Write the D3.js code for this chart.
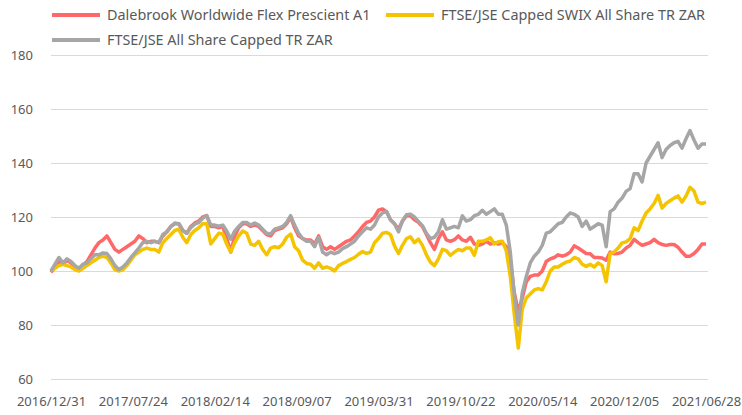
<!DOCTYPE html>
<html>
<head>
<meta charset="utf-8">
<script src="https://cdn.jsdelivr.net/npm/d3@7"></script>
<style>
  body { margin: 0; background: #fff; }
  svg { display: block; }
  text { font-family: "Noto Sans", sans-serif; fill: #595959; }
</style>
</head>
<body>
<div class="chart"></div>
<script>
// series names, one value every 10 days from 2016/12/31 to 2021/06/28
const names = ['Dalebrook Worldwide Flex Prescient A1', 'FTSE/JSE Capped SWIX All Share TR ZAR', 'FTSE/JSE All Share Capped TR ZAR']
const colors = ['#ff6868', '#f4c400', '#a6a6a6']

const dalebrook = [
  99.5, 101.5, 104, 102.5, 104, 103, 101.5, 100.5, 102, 103.5,
  106, 108.5, 110.5, 111.5, 113, 110.5, 108, 107, 108, 109,
  110, 111, 113, 112, 110.5, 111, 111, 110.5, 113, 114.5,
  116.5, 117.5, 117.5, 115, 114, 116.5, 117.8, 118.5, 120, 120.5,
  116.5, 116.5, 116, 116.5, 112, 107, 113, 116, 117.5, 117.5,
  116.5, 117, 116.5, 115, 113.5, 113, 115, 115.5, 116, 117.5,
  120, 116, 113, 112, 111.5, 111.5, 110, 113, 109, 108,
  109, 108, 109, 110, 111, 111.5, 113, 114.5, 116.5, 118,
  118.5, 120, 122.5, 123, 122, 119, 117.5, 115.5, 118.5, 120.5,
  120.5, 119, 118, 116.5, 113.5, 110.5, 108, 112, 114.5, 111.5,
  111, 111.6, 113, 111.5, 111, 112.5, 110, 109.5, 110, 111,
  110, 110.5, 110, 110.5, 109, 104, 92, 85, 90, 96,
  98, 98.5, 98.5, 100, 103.5, 104.5, 105, 106, 105.5, 106,
  107, 109.3, 108.5, 107.5, 106.5, 106.4, 105, 105, 104.8, 104,
  107, 106.4, 106.5, 107, 108.5, 109.5, 111.7, 110.5, 109.5, 110,
  110.5, 111.7, 110.5, 109.8, 109.5, 109.8, 109.8, 108.8, 107, 105.5,
  105.5, 106.5, 108, 110, 110
]

const swix = [
  100, 101, 102, 102.5, 102, 101.5, 100.5, 100, 101, 102,
  103, 104, 105, 105.5, 105, 103, 100.5, 100, 100.5, 102,
  104, 106, 107, 108, 108.5, 108, 108, 107, 110.5, 112,
  113.5, 115, 115.5, 112.5, 110.5, 113.5, 115, 116, 117.5, 117.5,
  110, 112, 114, 113.7, 110, 107, 110.5, 113, 114.8, 114,
  110, 109.5, 111, 108, 106, 108.5, 109, 108.6, 110, 112.5,
  113.7, 109, 107.5, 104, 102.8, 102.5, 101, 103, 101, 101.5,
  101, 100, 102, 102.8, 103.5, 104.3, 105, 106.2, 107.2, 106.5,
  107, 110.5, 112, 114, 114.3, 113.5, 109.3, 106.5, 109.5, 112,
  112.7, 110.5, 111.8, 109.5, 106, 103.3, 102, 104.5, 108, 107.5,
  105.8, 107, 108, 107.5, 108.5, 108.5, 105.8, 111, 111, 111.5,
  112.3, 110, 110.8, 111, 107.5, 98, 84, 71.5, 86, 90,
  91.5, 93, 93.5, 93, 96, 100, 101.5, 101.5, 102.5, 103.3,
  103.7, 105, 104.5, 102.5, 101.7, 102.5, 101.5, 103, 102, 96,
  106.5, 107, 108.5, 110.4, 110.8, 112, 116, 115, 118.5, 121.5,
  123, 125, 128, 123.3, 125, 126, 127, 127.8, 125.5, 127.8,
  131, 129.6, 125.5, 125, 125.5
]

const alsi = [
  100, 102.5, 105, 103, 104.5, 103.5, 102, 101, 102.5, 103,
  104.5, 106, 106, 106.7, 106.5, 104.5, 102, 100.5, 101.5, 103,
  105, 106.7, 108.5, 110.5, 111, 110.5, 111, 110.5, 113.5, 114.5,
  116.5, 117.8, 117.5, 115, 114, 116, 117.3, 118, 119.5, 120.5,
  117, 117, 116.6, 117, 114.8, 111.8, 114.8, 116.5, 118, 118,
  117, 117.8, 117, 115.5, 114, 113.7, 115.5, 116, 116.5, 118,
  120.5, 117, 114, 112, 111, 111, 109, 112.5, 107, 106,
  107, 106.4, 107, 108.3, 109, 110, 111, 113, 114.5, 116,
  115.5, 117, 120, 121.5, 122, 119, 117.5, 114.5, 118.5, 120.8,
  121, 120, 118.3, 116.8, 114, 112, 112.5, 114.5, 119, 115.5,
  116, 116.5, 116, 120.4, 118.5, 119, 120.5, 121, 122.5, 121,
  122, 123, 121, 121, 117, 107, 91, 80, 92, 98,
  103, 105.5, 107, 109.5, 114, 114.5, 116, 117.5, 118, 120,
  121.5, 121, 120, 116.5, 118.5, 115.5, 116.5, 117.5, 117, 109,
  122, 123, 125.5, 127, 129.5, 130.5, 136, 136, 133, 140,
  142.5, 145, 147.5, 142, 145, 146.5, 147.5, 148, 145.5, 149,
  152, 148.5, 145.5, 147, 147
]

const yTicks = [60, 80, 100, 120, 140, 160, 180]

const parse = d3.timeParse('%Y/%m/%d')
const start = parse('2016/12/31')
const end = parse('2021/06/28')
const dates = d3.range(dalebrook.length).map(i => d3.timeDay.offset(start, i * 10))
const xTicks = d3.range(9).map(i => d3.timeDay.offset(start, i * 205))

const width = 742
const height = 415

const svg = d3.select('.chart')
    .append('svg')
    .attr('width', width)
    .attr('height', height)

const x = d3.scaleTime().domain([start, end]).range([51, 706])
const y = d3.scaleLinear().domain([60, 180]).range([379, 55])

// gridlines + y labels
const yAxis = svg.append('g')
    .attr('transform', 'translate(51,0)')
    .call(d3.axisLeft(y).tickValues(yTicks).tickSize(-657).tickPadding(18))
yAxis.select('.domain').remove()
yAxis.selectAll('line').attr('stroke', '#d9d9d9').attr('stroke-width', 1.2)
yAxis.selectAll('text')
    .attr('font-size', 13)
    .attr('fill', '#595959')
    .attr('font-family', '"Noto Sans", sans-serif')

// x labels
const xAxis = svg.append('g')
    .attr('transform', 'translate(0,379)')
    .call(d3.axisBottom(x).tickValues(xTicks).tickFormat(d3.timeFormat('%Y/%m/%d')).tickSize(0).tickPadding(18))
xAxis.select('.domain').remove()
xAxis.selectAll('text')
    .attr('font-size', 13)
    .attr('fill', '#595959')
    .attr('font-family', '"Noto Sans", sans-serif')

const line = d3.line()
    .x((d, i) => x(dates[i]))
    .y(d => y(d))

const series = [dalebrook, swix, alsi]

svg.selectAll('.series')
    .data(series)
    .enter()
    .append('path')
    .attr('class', 'series')
    .attr('d', d => line(d))
    .attr('fill', 'none')
    .attr('stroke', (d, i) => colors[i])
    .attr('stroke-width', 3.5)
    .attr('stroke-linejoin', 'round')

// legend
const legendPos = [[52, 15], [386, 15], [52, 40]]

const legend = svg.selectAll('.legend')
    .data(names)
    .enter()
    .append('g')
    .attr('class', 'legend')
    .attr('transform', (d, i) => 'translate(' + legendPos[i][0] + ',' + legendPos[i][1] + ')')

legend.append('line')
    .attr('x1', 0)
    .attr('x2', 48)
    .attr('stroke', (d, i) => colors[i])
    .attr('stroke-width', 4)

legend.append('text')
    .attr('x', 55)
    .attr('dy', '0.35em')
    .attr('font-size', 14.4)
    .text(d => d)
</script>
</body>
</html>
